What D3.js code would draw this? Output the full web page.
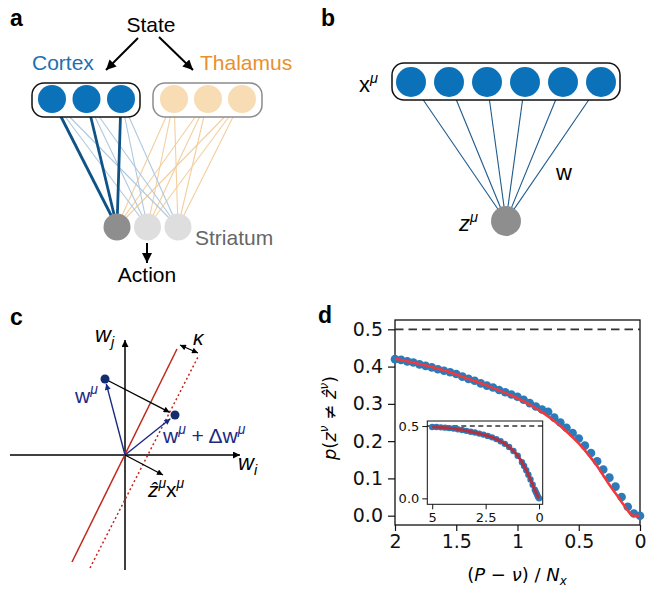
<!DOCTYPE html>
<html>
<head>
<meta charset="utf-8">
<script src="https://cdn.jsdelivr.net/npm/d3@7"></script>
<style>
  body { margin: 0; background: #fff; }
  svg { display: block; }
</style>
</head>
<body>
<div id="figure"></div>
<script>
// ---- panel a: populations and the strong cortico-striatal weights
const cortexUnits = [0, 1, 2];
const thalamusUnits = [0, 1, 2];
const striatumUnits = [0, 1, 2];
const strongTarget = 0; // striatal unit that gets the strong cortical input

// ---- panel b
const inputUnits = [0, 1, 2, 3, 4, 5];

// ---- panel c: vectors in the (w_i, w_j) plane
const wMu = [-1.0, 3.8];
const wMuNew = [2.5, 2.0];
const zxDir = [1.9, -1.0];
const boundary = [[-2.65, -5.35], [2.6, 5.3]];
const marginLine = [[-1.75, -5.65], [3.7, 5.0]];
const kappaEnds = [[2.75, 5.5], [3.65, 5.1]];

// ---- panel d: error probability vs (P - nu) / N_x
const simX = [2.00, 1.95, 1.90, 1.85, 1.80, 1.75, 1.70, 1.65, 1.60, 1.55, 1.50, 1.45, 1.40, 1.35,
  1.30, 1.25, 1.20, 1.15, 1.10, 1.05, 1.00, 0.95, 0.90, 0.85, 0.80, 0.75, 0.70, 0.65, 0.60,
  0.55, 0.50, 0.45, 0.40, 0.35, 0.30, 0.25, 0.20, 0.15, 0.10, 0.05, 0.00];
const simP = [0.420, 0.418, 0.414, 0.411, 0.406, 0.402, 0.398, 0.393, 0.389, 0.385, 0.380, 0.373,
  0.367, 0.362, 0.355, 0.349, 0.344, 0.337, 0.331, 0.325, 0.319, 0.311, 0.302, 0.293, 0.285,
  0.279, 0.263, 0.250, 0.236, 0.222, 0.207, 0.188, 0.168, 0.146, 0.124, 0.102, 0.078, 0.050,
  0.024, 0.006, 0.000];
const theoryX = [2.0, 1.8, 1.6, 1.4, 1.2, 1.0, 0.9, 0.8, 0.7, 0.6, 0.5, 0.4, 0.35, 0.3, 0.25,
  0.2, 0.15, 0.1, 0.07, 0.05, 0.0];
const theoryP = [0.421, 0.407, 0.390, 0.367, 0.343, 0.315, 0.298, 0.278, 0.254, 0.226, 0.194,
  0.155, 0.133, 0.108, 0.083, 0.060, 0.037, 0.014, 0.002, 0.0, 0.0];

const insetX = [5.0, 4.8, 4.6, 4.4, 4.2, 4.0, 3.8, 3.6, 3.4, 3.2, 3.0, 2.8, 2.6, 2.4, 2.2, 2.0,
  1.8, 1.6, 1.4, 1.2, 1.0, 0.8, 0.7, 0.6, 0.5, 0.4, 0.3, 0.2, 0.15, 0.1, 0.05, 0.0];
const insetP = [0.494, 0.493, 0.491, 0.489, 0.486, 0.483, 0.478, 0.473, 0.467, 0.461, 0.455,
  0.448, 0.441, 0.432, 0.422, 0.410, 0.395, 0.377, 0.355, 0.328, 0.295, 0.250, 0.224, 0.195,
  0.163, 0.130, 0.095, 0.060, 0.044, 0.028, 0.012, 0.0];

const mainYTicks = [0, 0.1, 0.2, 0.3, 0.4, 0.5];
const mainXTicks = [2, 1.5, 1, 0.5, 0];
const mainXLabels = ["2", "1.5", "1", "0.5", "0"];
const insetYTicks = [0, 0.5];
const insetXTicks = [5, 2.5, 0];
const insetXLabels = ["5", "2.5", "0"];
const chance = 0.5;

const W = 646, H = 591;
const sans = "'Liberation Sans', Arial, sans-serif";
const mpl = "'DejaVu Sans', sans-serif";

const svg = d3.select("#figure").append("svg")
    .attr("width", W)
    .attr("height", H)
    .style("font-family", sans);

// arrow markers
const defs = svg.append("defs");
function marker(id, color, len, wid) {
    defs.append("marker")
        .attr("id", id)
        .attr("viewBox", "0 0 10 10")
        .attr("refX", 10).attr("refY", 5)
        .attr("markerUnits", "userSpaceOnUse")
        .attr("markerWidth", len).attr("markerHeight", wid)
        .attr("orient", "auto-start-reverse")
        .append("path")
        .attr("d", "M0,0 L10,5 L0,10 z")
        .attr("fill", color);
}
marker("bigArrow", "#000", 11, 10);
marker("axArrow", "#000", 8, 7);
marker("navyArrow", "#1b2a84", 7, 6);
marker("smallArrow", "#000", 7, 6);

// superscripts / subscripts inside a text element
function rich(text, parts, size) {
    let shift = 0;
    parts.forEach(p => {
        const target = p.sup ? -size * 0.42 : p.sub ? size * 0.22 : 0;
        const ts = text.append("tspan").attr("dy", target - shift).text(p.t);
        shift = target;
        if (p.sup || p.sub) ts.attr("font-size", size * 0.66);
        if (p.it) ts.attr("font-style", "italic");
    });
    return text;
}

function panelLabel(t, x, y) {
    svg.append("text")
        .attr("x", x).attr("y", y)
        .attr("font-size", 23).attr("font-weight", "bold")
        .text(t);
}

// ================= panel a
(function () {
    const g = svg.append("g");
    const unitY = 99, strY = 227;
    const cx = d3.scalePoint().domain(cortexUnits).range([52, 121]);
    const tx = d3.scalePoint().domain(thalamusUnits).range([174, 242]);
    const sx = d3.scalePoint().domain(striatumUnits).range([117, 178]);

    panelLabel("a", 10, 26);

    g.append("text").attr("x", 151).attr("y", 32)
        .attr("text-anchor", "middle").attr("font-size", 21).text("State");
    g.append("line").attr("x1", 138).attr("y1", 38).attr("x2", 106).attr("y2", 70)
        .attr("stroke", "#000").attr("stroke-width", 2).attr("marker-end", "url(#bigArrow)");
    g.append("line").attr("x1", 159).attr("y1", 37).attr("x2", 193).attr("y2", 70)
        .attr("stroke", "#000").attr("stroke-width", 2).attr("marker-end", "url(#bigArrow)");

    g.append("text").attr("x", 32).attr("y", 70).attr("font-size", 21)
        .attr("fill", "#1d70b1").text("Cortex");
    g.append("text").attr("x", 200).attr("y", 70).attr("font-size", 21)
        .attr("fill", "#e8902c").text("Thalamus");

    // weak links first
    thalamusUnits.forEach(t => striatumUnits.forEach(s => {
        g.append("line")
            .attr("x1", tx(t)).attr("y1", unitY).attr("x2", sx(s)).attr("y2", strY)
            .attr("stroke", "#f3cfa0").attr("stroke-width", 1.1);
    }));
    cortexUnits.forEach(c => striatumUnits.forEach(s => {
        if (s === strongTarget) return;
        g.append("line")
            .attr("x1", cx(c)).attr("y1", unitY).attr("x2", sx(s)).attr("y2", strY)
            .attr("stroke", "#afc8de").attr("stroke-width", 1.1);
    }));
    cortexUnits.forEach(c => {
        g.append("line")
            .attr("x1", cx(c)).attr("y1", unitY).attr("x2", sx(strongTarget)).attr("y2", strY)
            .attr("stroke", "#0f5285").attr("stroke-width", 2.8);
    });

    g.append("rect").attr("x", 32).attr("y", 83).attr("width", 108).attr("height", 34)
        .attr("rx", 12).attr("fill", "#fff").attr("stroke", "#111").attr("stroke-width", 1.5);
    g.append("rect").attr("x", 153).attr("y", 83).attr("width", 109).attr("height", 34)
        .attr("rx", 12).attr("fill", "#fff").attr("stroke", "#8c8c8c").attr("stroke-width", 1.5);

    g.selectAll(".ctx").data(cortexUnits).join("circle")
        .attr("cx", d => cx(d)).attr("cy", unitY).attr("r", 14).attr("fill", "#0b72b9");
    g.selectAll(".thl").data(thalamusUnits).join("circle")
        .attr("cx", d => tx(d)).attr("cy", unitY).attr("r", 14).attr("fill", "#f8dcb4");
    g.selectAll(".str").data(striatumUnits).join("circle")
        .attr("cx", d => sx(d)).attr("cy", strY).attr("r", 13.5)
        .attr("fill", d => d === strongTarget ? "#8e8e8e" : "#dedede");

    g.append("text").attr("x", 195).attr("y", 245).attr("font-size", 21)
        .attr("fill", "#666").text("Striatum");
    g.append("line").attr("x1", 147).attr("y1", 243).attr("x2", 147).attr("y2", 263)
        .attr("stroke", "#000").attr("stroke-width", 2).attr("marker-end", "url(#bigArrow)");
    g.append("text").attr("x", 147).attr("y", 282).attr("text-anchor", "middle")
        .attr("font-size", 21).text("Action");
})();

// ================= panel b
(function () {
    const g = svg.append("g");
    const ix = d3.scalePoint().domain(inputUnits).range([411, 601]);
    const inY = 82, out = [506, 221];

    panelLabel("b", 321, 26);

    g.selectAll(".w").data(inputUnits).join("line")
        .attr("x1", d => ix(d)).attr("y1", inY).attr("x2", out[0]).attr("y2", out[1])
        .attr("stroke", "#1d5a8c").attr("stroke-width", 1.1);
    g.append("rect").attr("x", 392).attr("y", 63).attr("width", 228).attr("height", 37)
        .attr("rx", 12).attr("fill", "#fff").attr("stroke", "#111").attr("stroke-width", 1.5);
    g.selectAll(".in").data(inputUnits).join("circle")
        .attr("cx", d => ix(d)).attr("cy", inY).attr("r", 15).attr("fill", "#0b72b9");
    g.append("circle").attr("cx", out[0]).attr("cy", out[1]).attr("r", 15).attr("fill", "#8e8e8e");

    rich(g.append("text").attr("x", 359).attr("y", 92).attr("font-size", 22),
        [{ t: "x" }, { t: "μ", sup: true, it: true }], 22);
    rich(g.append("text").attr("x", 459).attr("y", 231).attr("font-size", 22),
        [{ t: "z", it: true }, { t: "μ", sup: true, it: true }], 22);
    g.append("text").attr("x", 556).attr("y", 180).attr("font-size", 22).text("w");
})();

// ================= panel c
(function () {
    const g = svg.append("g");
    const x = d3.scaleLinear().domain([-5.75, 5.75]).range([10, 240]);
    const y = d3.scaleLinear().domain([-5.75, 5.75]).range([570, 340]);
    const navy = "#1b2a84";

    panelLabel("c", 10, 325);

    g.append("line").attr("x1", x(-5.75)).attr("y1", y(0)).attr("x2", x(5.75)).attr("y2", y(0))
        .attr("stroke", "#000").attr("stroke-width", 1.5).attr("marker-end", "url(#axArrow)");
    g.append("line").attr("x1", x(0)).attr("y1", y(-5.75)).attr("x2", x(0)).attr("y2", y(5.75))
        .attr("stroke", "#000").attr("stroke-width", 1.5).attr("marker-end", "url(#axArrow)");

    g.append("line")
        .attr("x1", x(boundary[0][0])).attr("y1", y(boundary[0][1]))
        .attr("x2", x(boundary[1][0])).attr("y2", y(boundary[1][1]))
        .attr("stroke", "#c0281c").attr("stroke-width", 1.5);
    g.append("line")
        .attr("x1", x(marginLine[0][0])).attr("y1", y(marginLine[0][1]))
        .attr("x2", x(marginLine[1][0])).attr("y2", y(marginLine[1][1]))
        .attr("stroke", "#c0281c").attr("stroke-width", 1.5).attr("stroke-dasharray", "2,2.6");

    g.append("line")
        .attr("x1", x(kappaEnds[0][0])).attr("y1", y(kappaEnds[0][1]))
        .attr("x2", x(kappaEnds[1][0])).attr("y2", y(kappaEnds[1][1]))
        .attr("stroke", "#000").attr("stroke-width", 1.2)
        .attr("marker-start", "url(#smallArrow)").attr("marker-end", "url(#smallArrow)");

    // arrow from a to b, stopped short by gap pixels
    function arrow(a, b, gap, color, mk) {
        const x1 = x(a[0]), y1 = y(a[1]), x2 = x(b[0]), y2 = y(b[1]);
        const L = Math.hypot(x2 - x1, y2 - y1);
        g.append("line")
            .attr("x1", x1).attr("y1", y1)
            .attr("x2", x2 - (x2 - x1) * gap / L).attr("y2", y2 - (y2 - y1) * gap / L)
            .attr("stroke", color).attr("stroke-width", 1.4).attr("marker-end", mk);
    }
    arrow([0, 0], wMu, 5, navy, "url(#navyArrow)");
    arrow([0, 0], wMuNew, 6, navy, "url(#navyArrow)");
    arrow(wMu, wMuNew, 6, "#000", "url(#smallArrow)");
    arrow([0, 0], zxDir, 0, "#000", "url(#smallArrow)");

    g.selectAll(".pt").data([wMu, wMuNew]).join("circle")
        .attr("cx", d => x(d[0])).attr("cy", d => y(d[1])).attr("r", 4.5).attr("fill", "#142c6e");

    rich(g.append("text").attr("x", 95).attr("y", 342).attr("font-size", 22),
        [{ t: "w", it: true }, { t: "j", sub: true, it: true }], 22);
    rich(g.append("text").attr("x", 238).attr("y", 470).attr("font-size", 22),
        [{ t: "w", it: true }, { t: "i", sub: true, it: true }], 22);
    g.append("text").attr("x", 193).attr("y", 345).attr("font-size", 21)
        .attr("font-style", "italic").text("κ");
    rich(g.append("text").attr("x", 75).attr("y", 403).attr("font-size", 21).attr("fill", navy),
        [{ t: "w" }, { t: "μ", sup: true, it: true }], 21);
    rich(g.append("text").attr("x", 163).attr("y", 443).attr("font-size", 21).attr("fill", navy),
        [{ t: "w" }, { t: "μ", sup: true, it: true }, { t: " + Δw" }, { t: "μ", sup: true, it: true }], 21);
    rich(g.append("text").attr("x", 148).attr("y", 497).attr("font-size", 21),
        [{ t: "ẑ", it: true }, { t: "μ", sup: true, it: true }, { t: "x" }, { t: "μ", sup: true, it: true }], 21);
})();

// ================= panel d
(function () {
    const g = svg.append("g").style("font-family", mpl);
    const x = d3.scaleLinear().domain([2, 0]).range([395, 640]);
    const y = d3.scaleLinear().domain([-0.025, 0.525]).range([525, 320]);
    const dotColor = "#2b7bba";

    panelLabel("d", 318, 323);

    const ya = g.append("g").attr("transform", "translate(395,0)")
        .call(d3.axisLeft(y).tickValues(mainYTicks).tickFormat(d3.format(".1f"))
            .tickSize(7).tickPadding(5).tickSizeOuter(0));
    const xa = g.append("g").attr("transform", "translate(0,525)")
        .call(d3.axisBottom(x).tickValues(mainXTicks).tickFormat((d, i) => mainXLabels[i])
            .tickSize(6).tickPadding(4).tickSizeOuter(0));
    [ya, xa].forEach(a => {
        a.select(".domain").remove();
        a.selectAll("text").attr("font-size", 19).attr("font-family", mpl).attr("fill", "#111");
        a.selectAll("line").attr("stroke", "#111").attr("stroke-width", 1.2);
    });

    g.append("rect").attr("x", 395).attr("y", 320).attr("width", 245).attr("height", 205)
        .attr("fill", "none").attr("stroke", "#111").attr("stroke-width", 1.3);

    g.append("line").attr("x1", 395).attr("x2", 640).attr("y1", y(chance)).attr("y2", y(chance))
        .attr("stroke", "#333").attr("stroke-width", 1.8).attr("stroke-dasharray", "8.5,5");

    g.selectAll(".dot").data(simX).join("circle")
        .attr("cx", d => x(d)).attr("cy", (d, i) => y(simP[i])).attr("r", 4.3)
        .attr("fill", dotColor);
    g.append("path")
        .datum(theoryX.map((d, i) => [d, theoryP[i]]))
        .attr("d", d3.line().x(d => x(d[0])).y(d => y(d[1])).curve(d3.curveMonotoneX))
        .attr("fill", "none").attr("stroke", "#f0393c").attr("stroke-width", 2.6);

    // labels
    rich(g.append("text").attr("x", 517).attr("y", 581).attr("text-anchor", "middle")
        .attr("font-size", 18),
        [{ t: "(" }, { t: "P", it: true }, { t: " − " }, { t: "ν", it: true }, { t: ") / " },
         { t: "N", it: true }, { t: "x", sub: true, it: true }], 18);
    rich(g.append("text").attr("transform", "translate(336,418) rotate(-90)")
        .attr("text-anchor", "middle").attr("font-size", 18),
        [{ t: "p", it: true }, { t: "(" }, { t: "z", it: true }, { t: "ν", sup: true, it: true },
         { t: " ≠ " }, { t: "ẑ", it: true }, { t: "ν", sup: true, it: true }, { t: ")" }], 18);

    // inset
    const ix = d3.scaleLinear().domain([5.23, -0.17]).range([427.3, 542.7]);
    const iy = d3.scaleLinear().domain([-0.041, 0.535]).range([504.3, 421]);
    g.append("rect").attr("x", 427.3).attr("y", 421).attr("width", 115.4).attr("height", 83.3)
        .attr("fill", "#fff");
    const iya = g.append("g").attr("transform", "translate(427.3,0)")
        .call(d3.axisLeft(iy).tickValues(insetYTicks).tickFormat(d3.format(".1f"))
            .tickSize(5).tickPadding(3).tickSizeOuter(0));
    const ixa = g.append("g").attr("transform", "translate(0,504.3)")
        .call(d3.axisBottom(ix).tickValues(insetXTicks).tickFormat((d, i) => insetXLabels[i])
            .tickSize(5).tickPadding(3).tickSizeOuter(0));
    [iya, ixa].forEach(a => {
        a.select(".domain").remove();
        a.selectAll("text").attr("font-size", 13).attr("font-family", mpl).attr("fill", "#111");
        a.selectAll("line").attr("stroke", "#111").attr("stroke-width", 1);
    });
    g.append("line").attr("x1", 427.3).attr("x2", 542.7).attr("y1", iy(chance)).attr("y2", iy(chance))
        .attr("stroke", "#333").attr("stroke-width", 1.4).attr("stroke-dasharray", "5,3.5");
    g.selectAll(".idot").data(insetX).join("circle")
        .attr("cx", d => ix(d)).attr("cy", (d, i) => iy(insetP[i])).attr("r", 3.2)
        .attr("fill", dotColor);
    g.append("path")
        .datum(insetX.map((d, i) => [d, insetP[i]]))
        .attr("d", d3.line().x(d => ix(d[0])).y(d => iy(d[1])).curve(d3.curveMonotoneX))
        .attr("fill", "none").attr("stroke", "#b2313f").attr("stroke-width", 3);
    g.append("rect").attr("x", 427.3).attr("y", 421).attr("width", 115.4).attr("height", 83.3)
        .attr("fill", "none").attr("stroke", "#111").attr("stroke-width", 1);
})();
</script>
</body>
</html>
